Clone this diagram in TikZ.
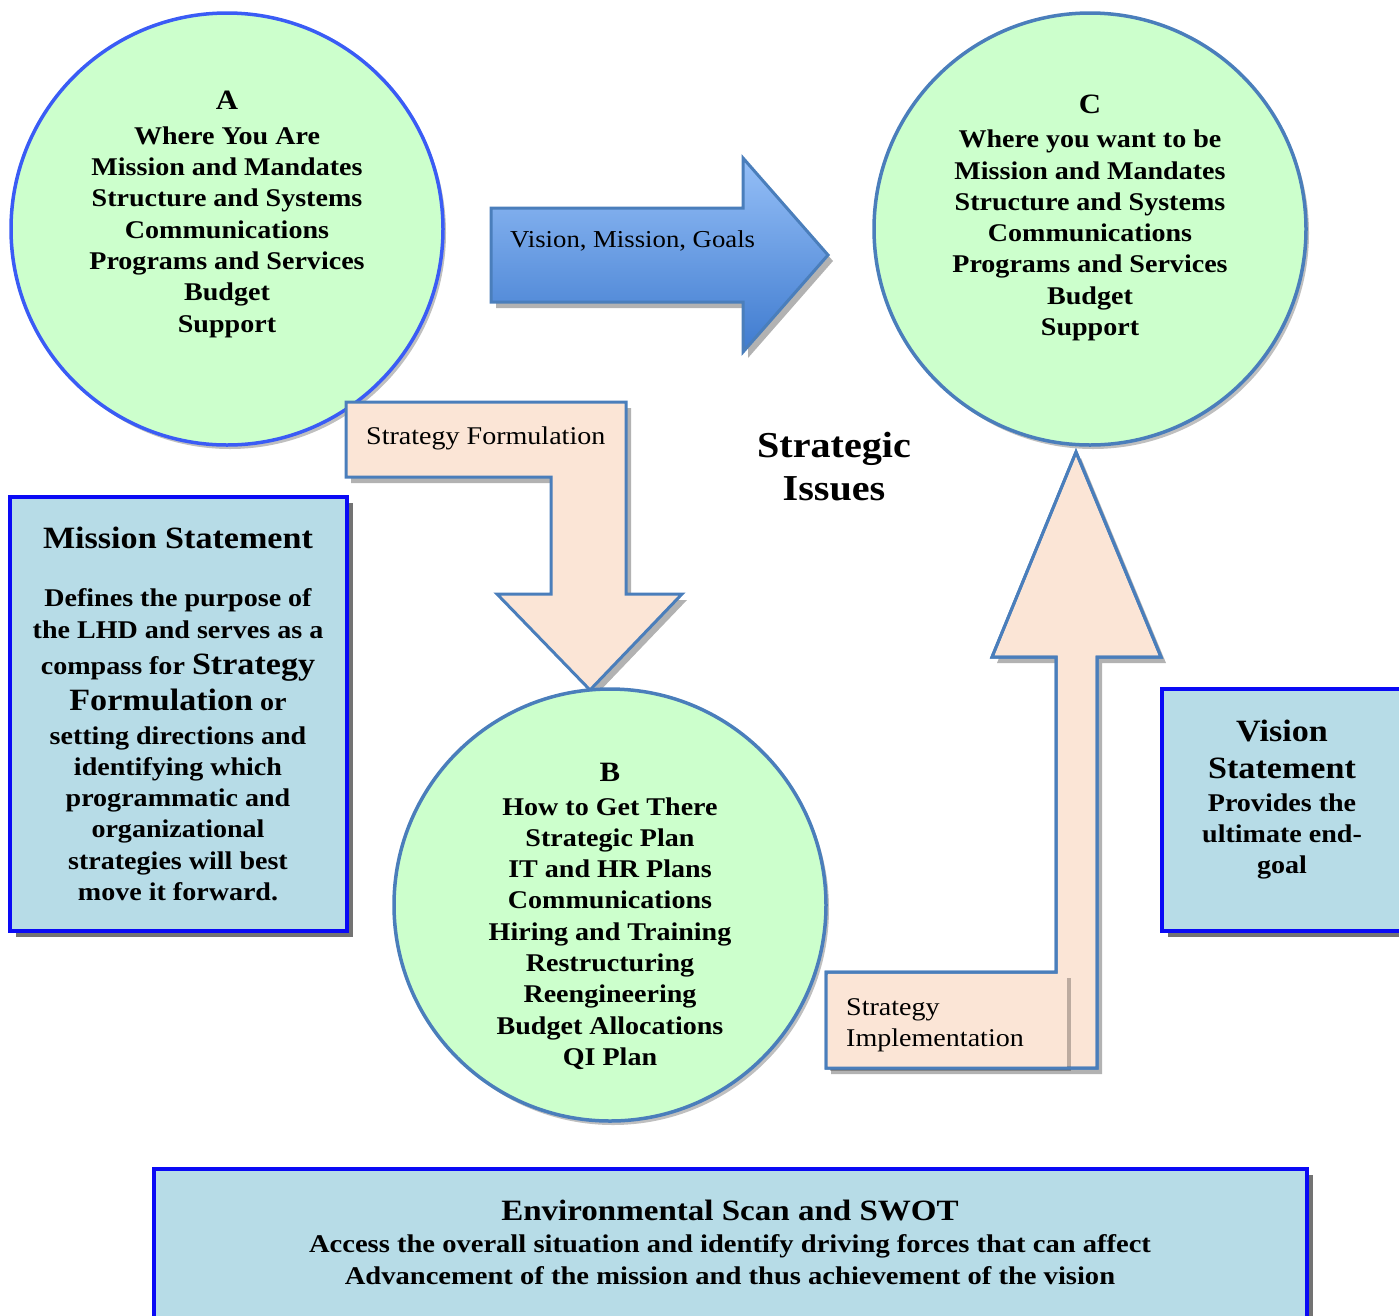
\documentclass[tikz,border=0pt]{standalone}
\usepackage{fontspec}
\setmainfont{Liberation Serif}[FakeStretch=1.1]
\newfontfamily\envfont{Liberation Serif}[FakeStretch=1.12]
\usetikzlibrary{shadows}
\definecolor{cgreen}{HTML}{CCFFCC}
\definecolor{aborder}{HTML}{3A5CF5}
\definecolor{steel}{HTML}{4A7EBB}
\definecolor{peach}{HTML}{FBE5D6}
\definecolor{boxfill}{HTML}{B7DCE7}
\definecolor{boxline}{HTML}{0A0AF5}
\definecolor{atop}{HTML}{95BFF7}
\definecolor{abot}{HTML}{3F7BCF}
\begin{document}
\begin{tikzpicture}[x=1pt,y=-1pt,
  circ/.style={circle, fill=cgreen, line width=3.5pt, minimum size=432pt, inner sep=0pt,
    drop shadow={shadow xshift=3pt, shadow yshift=-4pt, opacity=0.25, fill=black}},
  infobox/.style={rectangle, fill=boxfill, draw=boxline, line width=4pt, inner sep=0pt,
    drop shadow={shadow xshift=6pt, shadow yshift=-6pt, opacity=0.55, fill=black}},
  arrowshape/.style={draw=steel, line width=3pt, line join=miter,
    drop shadow={shadow xshift=5pt, shadow yshift=-6pt, opacity=0.3, fill=black}},
  body/.style={align=center, inner sep=0pt, font=\bfseries\fontsize{25.5}{31.3}\selectfont},
  letter/.style={inner sep=0pt, font=\bfseries\fontsize{28}{32}\selectfont},
  title/.style={align=center, inner sep=0pt, font=\bfseries\fontsize{31}{37}\selectfont},
  lbl/.style={inner sep=0pt, anchor=west, font=\fontsize{25.5}{30}\selectfont}
]
\useasboundingbox (0,0) rectangle (1399,1315);

% Circle A
\node[circ, draw=aborder] (A) at (227,229) {};
\node[letter] (Al) at (227,100) {A};
\node[body] (At) at (227,232) {Where You Are\\Mission and Mandates\\Structure and Systems\\Communications\\Programs and Services\\Budget\\Support};

% Vision, Mission, Goals arrow
\path[arrowshape, top color=atop, bottom color=abot] (491,208) -- (743,208) -- (743,158) -- (828,255) -- (743,352) -- (743,302) -- (491,302) -- cycle;
\node[lbl, font=\fontsize{24.3}{30}\selectfont] (vmg) at (510,241) {Vision, Mission, Goals};

% Strategy Formulation arrow
\path[arrowshape, fill=peach] (346,402) -- (626,402) -- (626,594) -- (682,594) -- (590,690) -- (497,594) -- (551,594) -- (551,477) -- (346,477) -- cycle;
\node[lbl] (sf) at (366,438) {Strategy Formulation};

% Circle C
\node[circ, draw=steel] (C) at (1090,229) {};
\node[letter] (Cl) at (1090,104) {C};
\node[body] (Ct) at (1090,235.5) {Where you want to be\\Mission and Mandates\\Structure and Systems\\Communications\\Programs and Services\\Budget\\Support};

% Circle B
\node[circ, draw=steel] (B) at (610,905) {};
\node[letter] (Bl) at (610,772) {B};
\node[body] (Bt) at (610,933.5) {How to Get There\\Strategic Plan\\IT and HR Plans\\Communications\\Hiring and Training\\Restructuring\\Reengineering\\Budget Allocations\\QI Plan};

% Strategic Issues
\node[inner sep=0pt, align=center, font=\bfseries\fontsize{36.5}{43}\selectfont] (si) at (834,467) {Strategic\\Issues};

% Strategy Implementation arrow
\path[arrowshape, fill=peach] (826,972) -- (1056,972) -- (1056,657) -- (992,657) -- (1076,452) -- (1161,657) -- (1097,657) -- (1097,1068) -- (826,1068) -- cycle;
\fill[peach, drop shadow={shadow xshift=4pt, shadow yshift=-3pt, opacity=0.25, fill=black}] (826,975) rectangle (1067,1068);
\draw[steel, line width=3pt, line join=miter] (826,972) -- (1056,972) -- (1056,657) -- (992,657) -- (1076,452) -- (1161,657) -- (1097,657) -- (1097,1068) -- (826,1068) -- cycle;
\node[lbl] (si1) at (846,1010) {Strategy};
\node[lbl] (si2) at (846,1040) {Implementation};

% Mission Statement box
\node[infobox, minimum width=337pt, minimum height=434pt] (mbox) at (178.5,714) {};
\node[title] (mtitle) at (178,538) {Mission Statement};
\node[body] (mbody) at (178,744.5) {Defines the purpose of\\[0.7pt]the LHD and serves as a\\[4.7pt]compass for {\fontsize{31}{34}\selectfont Strategy}\\[4.7pt]{\fontsize{31}{34}\selectfont Formulation} or\\[2.7pt]setting directions and\\identifying which\\programmatic and\\organizational\\strategies will best\\move it forward.};

% Vision Statement box
\node[infobox, minimum width=258pt, minimum height=242pt] (vbox) at (1291,810) {};
\node[title] (vtitle) at (1282,749) {Vision\\Statement};
\node[body] (vbody) at (1282,836.5) {Provides the\\ultimate end-\\goal};

% Environmental Scan box
\node[infobox, minimum width=1153pt, minimum height=170pt] (ebox) at (730.5,1254) {};
\node[title, font=\envfont\bfseries\fontsize{29.5}{37}\selectfont] (etitle) at (730,1210) {Environmental Scan and SWOT};
\node[body, font=\envfont\bfseries\fontsize{25.5}{32}\selectfont] (ebody) at (730,1260) {Access the overall situation and identify driving forces that can affect\\Advancement of the mission and thus achievement of the vision};
\end{tikzpicture}
\end{document}
